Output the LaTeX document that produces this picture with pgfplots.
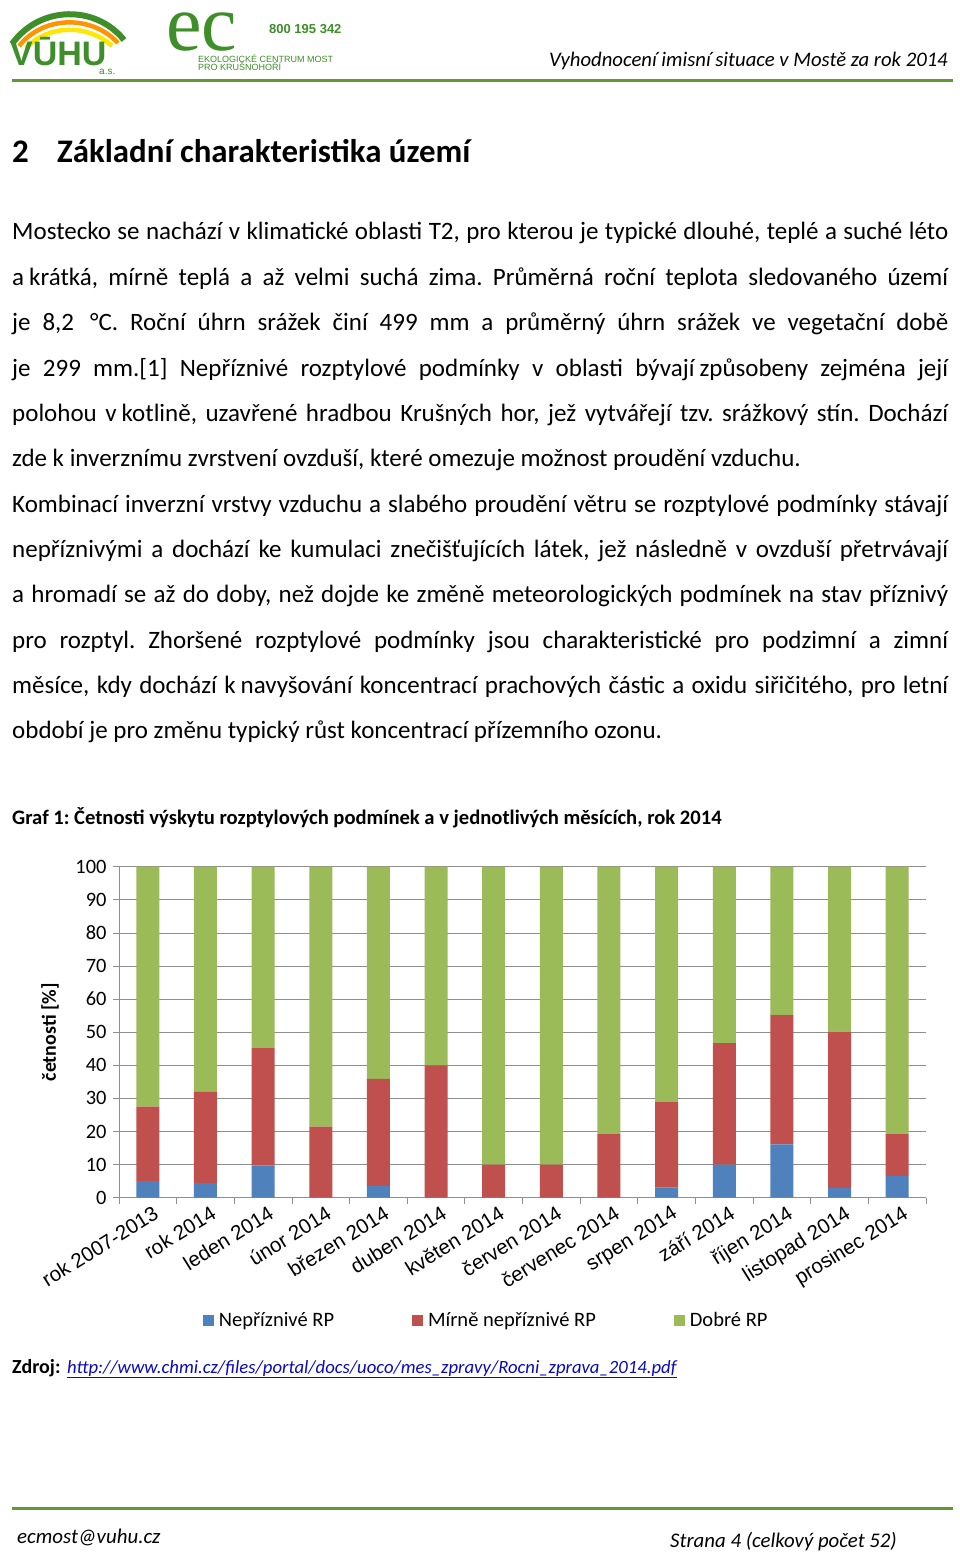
\documentclass[border=0pt]{standalone}
\usepackage{fontspec}
\setmainfont{Carlito}
\newfontfamily\arialfont{Liberation Sans}
\newfontfamily\serifont{Liberation Serif}
\usepackage{pgfplots}
\usepackage{pgfplotstable}
\pgfplotsset{compat=1.18}

\definecolor{rpblue}{HTML}{4F81BD}
\definecolor{rpred}{HTML}{C0504D}
\definecolor{rpgreen}{HTML}{9BBB59}
\definecolor{gridgray}{HTML}{8E8E8E}
\definecolor{rulegreen}{RGB}{98,152,50}
\definecolor{logogreen}{RGB}{62,142,42}
\definecolor{linkblue}{RGB}{10,10,190}

\newcommand\body{\fontsize{25}{30}\selectfont}
\newcommand\jline[2]{\node[anchor=base west,inner sep=0pt] at (12,#1) {\body\makebox[936pt][s]{#2}};}
\newcommand\lline[2]{\node[anchor=base west,inner sep=0pt] at (12,#1) {\body #2};}

% cetnosti rozptylovych podminek [%]
\pgfplotstableread{
x nep mir dob
0  5.0 22.5 72.5
1  4.4 27.6 68.0
2  9.8 35.4 54.8
3  0.0 21.5 78.5
4  3.6 32.3 64.1
5  0.0 40.0 60.0
6  0.0 10.0 90.0
7  0.0 10.0 90.0
8  0.0 19.4 80.6
9  3.1 25.9 71.0
10 10.0 36.7 53.3
11 16.1 39.1 44.8
12 3.0 47.2 49.8
13 6.6 12.8 80.6
}\rpdata

\begin{document}
\frenchspacing
\begin{tikzpicture}
\path[fill=white] (0pt,0pt) rectangle (960pt,-1554pt);

\begin{scope}[x=1pt,y=-1pt]
% logos
\draw[line width=6pt,logogreen] (12,44) .. controls (40,5) and (96,5) .. (124,40);
\draw[line width=4.5pt,orange!85!yellow] (19,46) .. controls (44,15) and (92,15) .. (118,43);
\draw[line width=4.5pt,yellow!90!orange] (26,48) .. controls (49,24) and (88,24) .. (112,46);
\node[anchor=base west,inner sep=0pt,logogreen] at (10,66) {\arialfont\bfseries\fontsize{34}{34}\selectfont VŪHU};
\node[anchor=base west,inner sep=0pt,logogreen] at (99,75) {\arialfont\fontsize{10}{10}\selectfont a.s.};
\node[anchor=base west,inner sep=0pt,logogreen] at (166,51) {\serifont\fontsize{80}{80}\selectfont ec};
\node[anchor=base west,inner sep=0pt,logogreen] at (269,34) {\arialfont\bfseries\fontsize{13}{13}\selectfont 800 195 342};
\node[anchor=base west,inner sep=0pt,logogreen] at (198,63) {\arialfont\fontsize{9}{9}\selectfont EKOLOGICKÉ CENTRUM MOST};
\node[anchor=base west,inner sep=0pt,logogreen] at (198,71) {\arialfont\fontsize{9}{9}\selectfont PRO KRUŠNOHOŘÍ};

% header
\node[anchor=base east,inner sep=0pt] at (948,67) {\itshape\fontsize{20.7}{24}\selectfont Vyhodnocení imisní situace v Mostě za rok 2014};
\draw[rulegreen,line width=3pt] (12,81) -- (953,81);

% heading
\node[anchor=base west,inner sep=0pt] at (12,163) {\bfseries\fontsize{32.9}{36}\selectfont 2};
\node[anchor=base west,inner sep=0pt] at (57,163) {\bfseries\fontsize{32.9}{36}\selectfont Základní charakteristika území};

% body text
\jline{240}{Mostecko se nachází v klimatické oblasti T2, pro kterou je typické dlouhé, teplé a suché léto}
\jline{285.35}{a\kern.2em krátká, mírně teplá a až velmi suchá zima. Průměrná roční teplota sledovaného území}
\jline{330.7}{je 8,2 \,°C. Roční úhrn srážek činí 499 mm a průměrný úhrn srážek ve vegetační době}
\jline{376.05}{je 299 mm.[1] Nepříznivé rozptylové podmínky v oblasti bývají\kern.2em způsobeny zejména její}
\jline{421.4}{polohou v\kern.2em kotlině, uzavřené hradbou Krušných hor, jež vytvářejí tzv. srážkový stín. Dochází}
\lline{466.75}{zde k inverznímu zvrstvení ovzduší, které omezuje možnost proudění vzduchu.}
\jline{512.1}{Kombinací inverzní vrstvy vzduchu a slabého proudění větru se rozptylové podmínky stávají}
\jline{557.45}{nepříznivými a dochází ke kumulaci znečišťujících látek, jež následně v ovzduší přetrvávají}
\jline{602.8}{a hromadí se až do doby, než dojde ke změně meteorologických podmínek na stav příznivý}
\jline{648.15}{pro rozptyl. Zhoršené rozptylové podmínky jsou charakteristické pro podzimní a zimní}
\jline{693.5}{měsíce, kdy dochází k\kern.2em navyšování koncentrací prachových částic a oxidu siřičitého, pro letní}
\lline{738.85}{období je pro změnu typický růst koncentrací přízemního ozonu.}

% graph caption
\node[anchor=base west,inner sep=0pt] at (12,824) {\bfseries\fontsize{20.6}{24}\selectfont Graf 1: Četnosti výskytu rozptylových podmínek a v jednotlivých měsících, rok 2014};

% source
\node[anchor=base west,inner sep=0pt] at (12,1373) {\bfseries\fontsize{20}{24}\selectfont Zdroj:};
\node[anchor=base west,inner sep=0pt,linkblue] at (67,1373) {\itshape\fontsize{18.7}{24}\selectfont\underline{http://www.chmi.cz/files/portal/docs/uoco/mes\_zpravy/Rocni\_zprava\_2014.pdf}};

% footer
\draw[rulegreen,line width=3pt] (12,1508) -- (953,1508);
\node[anchor=base west,inner sep=0pt] at (17,1543) {\itshape\fontsize{20.9}{24}\selectfont ecmost@vuhu.cz};
\node[anchor=base east,inner sep=0pt] at (897,1547) {\itshape\fontsize{20.8}{24}\selectfont Strana 4 (celkový počet 52)};
\end{scope}

\begin{axis}[
  at={(119pt,-1197.7pt)}, anchor=south west,
  scale only axis, width=807pt, height=331pt,
  ybar stacked, bar width=23pt,
  xmin=-0.5, xmax=13.5, ymin=0, ymax=100,
  xtick={-0.5,0.5,...,13.5}, xticklabels={},
  extra x ticks={0,...,13},
  extra x tick labels={rok 2007-2013,rok 2014,leden 2014,únor 2014,březen 2014,duben 2014,květen 2014,červen 2014,červenec 2014,srpen 2014,září 2014,říjen 2014,listopad 2014,prosinec 2014},
  extra x tick style={major tick length=0pt},
  x tick label style={font=\arialfont\fontsize{20.5}{24}\selectfont, rotate=32, anchor=north east, inner sep=1pt, yshift=-7pt, xshift=1pt},
  ytick={0,10,...,100},
  y tick label style={font=\fontsize{20.4}{24}\selectfont, xshift=-3pt},
  /pgf/number format/assume math mode=true,
  tick align=outside, major tick length=6pt,
  tick style={gridgray, line width=0.8pt},
  axis x line*=bottom, axis y line*=left,
  axis line style={gridgray, line width=0.8pt},
  ymajorgrids, grid style={gridgray, line width=0.8pt},
  ylabel={\bfseries četnosti [\%]},
  ylabel style={font=\fontsize{20}{24}\selectfont, at={(axis description cs:-0.0855,0.5)}, anchor=center},
  legend columns=3,
  legend style={draw=none, font=\fontsize{20.5}{24}\selectfont,
    at={(axis description cs:0.455,-0.37)}, anchor=center,
    /tikz/every odd column/.append style={column sep=3pt},
    /tikz/every even column/.append style={column sep=76pt}},
  legend image code/.code={\fill[#1] (0pt,-5.5pt) rectangle (11pt,5.5pt);},
]
\addplot[fill=rpblue, draw=none] table[x=x,y=nep]{\rpdata};
\addplot[fill=rpred, draw=none] table[x=x,y=mir]{\rpdata};
\addplot[fill=rpgreen, draw=none] table[x=x,y=dob]{\rpdata};
\legend{Nepříznivé RP, Mírně nepříznivé RP, Dobré RP}
\end{axis}
\end{tikzpicture}
\end{document}
